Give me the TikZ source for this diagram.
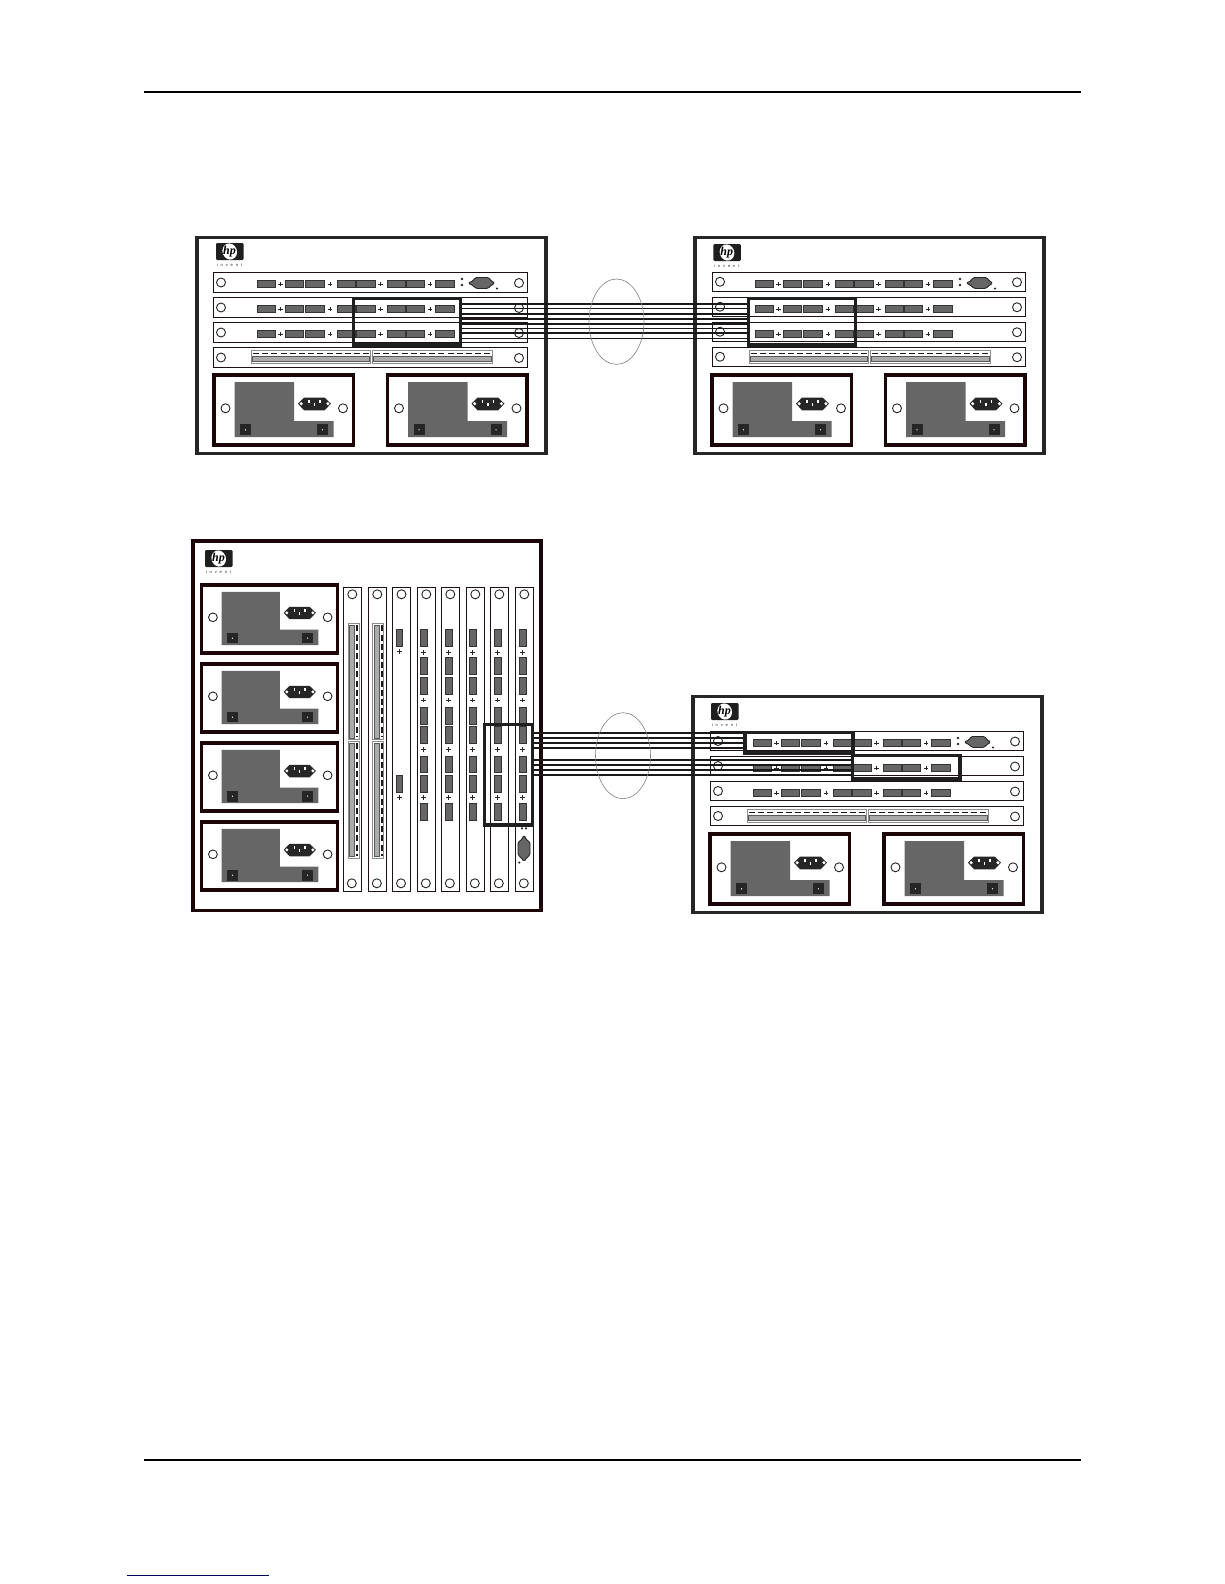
\documentclass[tikz,border=0pt]{standalone}
\usepackage{fontspec}
\setmainfont{Liberation Sans}
\newfontfamily\hpfont{Liberation Serif}
\definecolor{portgray}{HTML}{666666}
\definecolor{edgedark}{HTML}{1E1014}
\definecolor{psuedge}{HTML}{1C0508}
\definecolor{barfill}{HTML}{ABABAB}
\tikzset{
  x=1pt,y=-1pt,
  chassisbox/.style={draw=#1,line width=3.3pt,fill=white},
  chassisbox/.default=black!85,
  slotbox/.style={draw=edgedark,line width=1pt,fill=white},
  screw/.style={draw=black!85,line width=.9pt,fill=white},
  port/.style={draw=black!80,line width=.8pt,fill=portgray},
  plusmark/.style={draw=black!85,line width=.9pt},
  psubox/.style={draw=psuedge,line width=3.2pt,fill=white},
  psugray/.style={fill=portgray},
  inlet/.style={fill=black!85},
  psusw/.style={fill=black!85},
  whitemark/.style={fill=white},
  sectbox/.style={draw=black!45,line width=1pt,fill=white},
  sectbar/.style={draw=black!65,line width=.5pt,fill=barfill},
  dashmark/.style={draw=black!90,line width=1.6pt,dash pattern=on 6pt off 3.2pt},
  dbnine/.style={draw=black!85,line width=.9pt,fill=portgray,rounded corners=1.5pt},
  hilite/.style={draw=black!88,line width=3.3pt},
  trunkline/.style={draw=black!90,line width=1.5pt},
  lagring/.style={draw=black!50,line width=.6pt},
  pagerule/.style={draw=black,line width=2pt},
  linkrule/.style={draw=blue!40!black,line width=1pt},
  logobox/.style={fill=black!88,rounded corners=1.2pt},
  logotext/.style={inner sep=0pt,font=\hpfont\bfseries\itshape\fontsize{12}{12}\selectfont,text=black},
  tagtext/.style={inner sep=0pt,font=\fontsize{4}{4}\selectfont,text=black!85},
}
% logo: #1 name, #2 x, #3 y (top left)
\newcommand\HpLogo[3]{%
  \begin{scope}[shift={(#2,#3)}]
    \fill[logobox] (0,0) rectangle (27.5,17);
    \fill[white,rotate around={20:(13.7,8.5)}] (13.7,8.5) ellipse [x radius=7.2pt,y radius=8.2pt];
    \node[logotext] (#1hp) at (13.5,8.3) {hp};
    \node[tagtext] (#1tag) at (13.5,22) {\spaceskip=2.9pt i n v e n t};
  \end{scope}}
% power supply: #1 x, #2 y, #3 xscale, #4 yscale
\newcommand\PowerUnit[4]{%
  \begin{scope}[shift={(#1,#2)},xscale=#3,yscale=#4]
    \draw[psubox] (0,0) rectangle (139.5,70);
    \fill[psugray] (20.5,7) -- (80,7) -- (80,46) -- (119.5,46) -- (119.5,62) -- (20.5,62) -- cycle;
    \fill[inlet] (84,28.7) -- (90,22.5) -- (110.5,22.5) -- (117,28.7) -- (110.5,35.3) -- (90,35.3) -- cycle;
    \fill[whitemark] (85.5,28.7) -- (87.2,27) -- (88.9,28.7) -- (87.2,30.4) -- cycle;
    \fill[whitemark] (112.2,28.7) -- (113.9,27) -- (115.6,28.7) -- (113.9,30.4) -- cycle;
    \foreach \px/\py in {95/26.5,100.5/29.5,106/26.5}
      \fill[whitemark] (\px-.7,\py-1.6) rectangle (\px+.7,\py+1.6);
    \draw[screw] (11.5,33.3) circle [radius=4.5pt];
    \draw[screw] (129,33.3) circle [radius=4.5pt];
    \foreach \sx in {26,103}{
      \fill[psusw] (\sx,49.3) rectangle (\sx+11,60.3);
      \fill[whitemark] (\sx+5.5,54.8) circle [radius=.7pt];
    }
  \end{scope}}
% horizontal slot frame: #1 top, #2 height, #3 left edge, #4 right edge
\newcommand\RowFrame[4]{%
  \draw[slotbox] (#3,#1) rectangle (#4,#1+#2);
  \draw[screw] (#3+7.5,#1+#2/2) circle [radius=4.5pt];
  \draw[screw] (#4-8.5,#1+#2/2+.5) circle [radius=4.5pt];}
% row of ports: #1 top
\newcommand\RowPorts[1]{%
  \foreach \aa/\bb in {60/78,88.5/106,108.5/127,140/158,159.5/178,190/208,209/227.5,238/257}
    \draw[port] (\aa,#1+7.8) rectangle (\bb,#1+15.3);
  \foreach \cc in {83.5,133,183.5,233}{
    \draw[plusmark] (\cc-2.4,#1+11.5) -- (\cc+2.4,#1+11.5);
    \draw[plusmark] (\cc,#1+9.1) -- (\cc,#1+13.9);
  }}
% horizontal chassis: #1 x, #2 y, #3 row height, #4 left edge of rows, #5 x of second power unit
\newcommand\HChassis[5]{%
  \begin{scope}[shift={(#1,#2)}]
    \draw[chassisbox] (0,0) rectangle (349,216);
    \RowFrame{35}{#3}{#4}{330.5}
    \RowFrame{60}{#3}{#4}{330.5}
    \RowFrame{85}{#3}{#4}{330.5}
    \RowFrame{110}{#3}{#4}{330.5}
    \RowPorts{35}\RowPorts{60}\RowPorts{85}
    % serial connector of the first row
    \fill[black!85] (265,41.5) circle [radius=1.3pt] (265,47.5) circle [radius=1.3pt];
    \draw[dbnine] (271,45.5) -- (276,43.5) -- (278,40) -- (292,40) -- (294,43.5) -- (298,45.5) -- (294,48) -- (291,51) -- (279,51) -- (276,48) -- cycle;
    \fill[black!85] (300,51) circle [radius=1.2pt];
    % management row
    \foreach \aa/\bb in {54/173.5,175/295.5}{
      \draw[sectbox] (\aa,113) rectangle (\bb,125.5);
      \draw[dashmark] (\aa+2,115.8) -- (\bb-2,115.8);
      \draw[sectbar] (\aa+1.5,118.5) rectangle (\bb-1.5,124);
    }
    \PowerUnit{17}{137.5}{1}{1}
    \PowerUnit{#5}{137.5}{1}{1}
  \end{scope}}
% vertical slot frame: #1 left
\newcommand\ColFrame[1]{%
  \draw[slotbox] (#1,587.3) rectangle (#1+18,891.7);
  \draw[screw] (#1+9,594.3) circle [radius=4.5pt];
  \draw[screw] (#1+8.5,883.3) circle [radius=4.5pt];}
% vertical slot with eight ports: #1 left of port
\newcommand\ColPorts[1]{%
  \foreach \aa/\bb in {629.3/646.7,657.3/674.7,677.3/694.7,707.3/724.7,726.3/743.7,756/772.7,775.3/792.7,803.3/820.7}
    \draw[port] (#1,\aa) rectangle (#1+7,\bb);
  \foreach \cc in {652.3,700,749.3,797.3}{
    \draw[plusmark] (#1+1.1,\cc) -- (#1+5.9,\cc);
    \draw[plusmark] (#1+3.5,\cc-2.4) -- (#1+3.5,\cc+2.4);
  }}
% vertical management slot: #1 left
\newcommand\ColMgmt[1]{%
  \foreach \aa/\bb in {623.3/739.3,741.3/858}{
    \draw[sectbox] (#1,\aa) rectangle (#1+11,\bb);
    \draw[sectbar] (#1+1.3,\aa+1.5) rectangle (#1+6.3,\bb-1.5);
    \draw[dashmark] (#1+9,\aa+2) -- (#1+9,\bb-2);
  }}
\begin{document}
\begin{tikzpicture}
\useasboundingbox (0,0) rectangle (1224,1584);
\fill[white] (0,0) rectangle (1224,1584);
% page rules
\coordinate (ruleTopL) at (144,92.5);  \coordinate (ruleTopR) at (1081,92.5);
\coordinate (ruleBotL) at (144,1460);  \coordinate (ruleBotR) at (1081,1460);
\coordinate (linkL) at (127,1575.3);   \coordinate (linkR) at (269,1575.3);
\draw[pagerule] (ruleTopL) -- (ruleTopR);
\draw[pagerule] (ruleBotL) -- (ruleBotR);
\draw[linkrule] (linkL) -- (linkR);
% horizontal chassis
\HChassis{197}{237.5}{20}{16.5}{190.5}
\HpLogo{A}{216}{243}
\HChassis{695}{237.5}{18.5}{17.5}{190.5}
\HpLogo{B}{713.3}{244}
\HChassis{693}{696.5}{19}{17.5}{191}
\HpLogo{D}{711}{703}
% vertical chassis
\draw[chassisbox=psuedge] (193,541) rectangle (541,910.5);
\HpLogo{C}{205}{550}
\PowerUnit{201.7}{585}{.976}{.97}
\PowerUnit{201.7}{664}{.976}{.97}
\PowerUnit{201.7}{743}{.976}{.97}
\PowerUnit{201.7}{822}{.976}{.97}
\foreach \sl in {343.3,368.3,392.5,417.3,441.3,466.3,490.3,515.3}{\ColFrame{\sl}}
\ColMgmt{348}
\ColMgmt{372.7}
% single ports slot
\foreach \aa/\bb in {629.3/646.7,775.3/792.7}{
  \draw[port] (396,\aa) rectangle (402.7,\bb);
  \draw[plusmark] (397,\bb+5) -- (401.8,\bb+5);
  \draw[plusmark] (399.4,\bb+2.6) -- (399.4,\bb+7.4);
}
\ColPorts{420.3}\ColPorts{445.3}\ColPorts{469.3}\ColPorts{494}\ColPorts{519}
% serial connector of the last slot
\fill[black!85] (522,828.3) circle [radius=1.2pt] (526,828.3) circle [radius=1.2pt];
\draw[dbnine] (524,835) -- (526.5,840) -- (530,842) -- (530,855) -- (526.5,858) -- (524,861.7) -- (521.5,858) -- (518,855) -- (518,842) -- (521.5,840) -- cycle;
\fill[black!85] (519.3,862.5) circle [radius=1.2pt];
% trunk between the upper chassis
\foreach \i/\yy in {1/304,2/308.7,3/314,4/319,5/324,6/328.3,7/333,8/338.3}{
  \coordinate (ta\i) at (461,\yy);
  \coordinate (tb\i) at (748,\yy);
  \draw[trunkline] (ta\i) -- (tb\i);
}
% trunk between the lower chassis
\foreach \i/\yy in {1/733,2/738,3/743,4/748}{
  \coordinate (ba\i) at (532.7,\yy);
  \coordinate (bb\i) at (745,\yy);
  \draw[trunkline] (ba\i) -- (bb\i);
}
\foreach \i/\yy in {5/760,6/765,7/770,8/775}{
  \coordinate (ba\i) at (532.7,\yy);
  \coordinate (bb\i) at (852,\yy);
  \draw[trunkline] (ba\i) -- (bb\i);
}
% link rings
\draw[lagring] (616.5,321.7) ellipse [x radius=27.5pt,y radius=42.7pt];
\draw[lagring] (623,755.7) ellipse [x radius=27.5pt,y radius=43pt];
% highlight frames
\draw[hilite] (353.5,298.5) rectangle (460.5,345);
\draw[hilite] (748.5,298.5) rectangle (855.5,345);
\draw[hilite] (745,732.5) rectangle (853,753);
\draw[hilite] (852.5,755.5) rectangle (960,779);
\draw[hilite] (484.5,724.5) rectangle (532.5,825);
\end{tikzpicture}
\end{document}
